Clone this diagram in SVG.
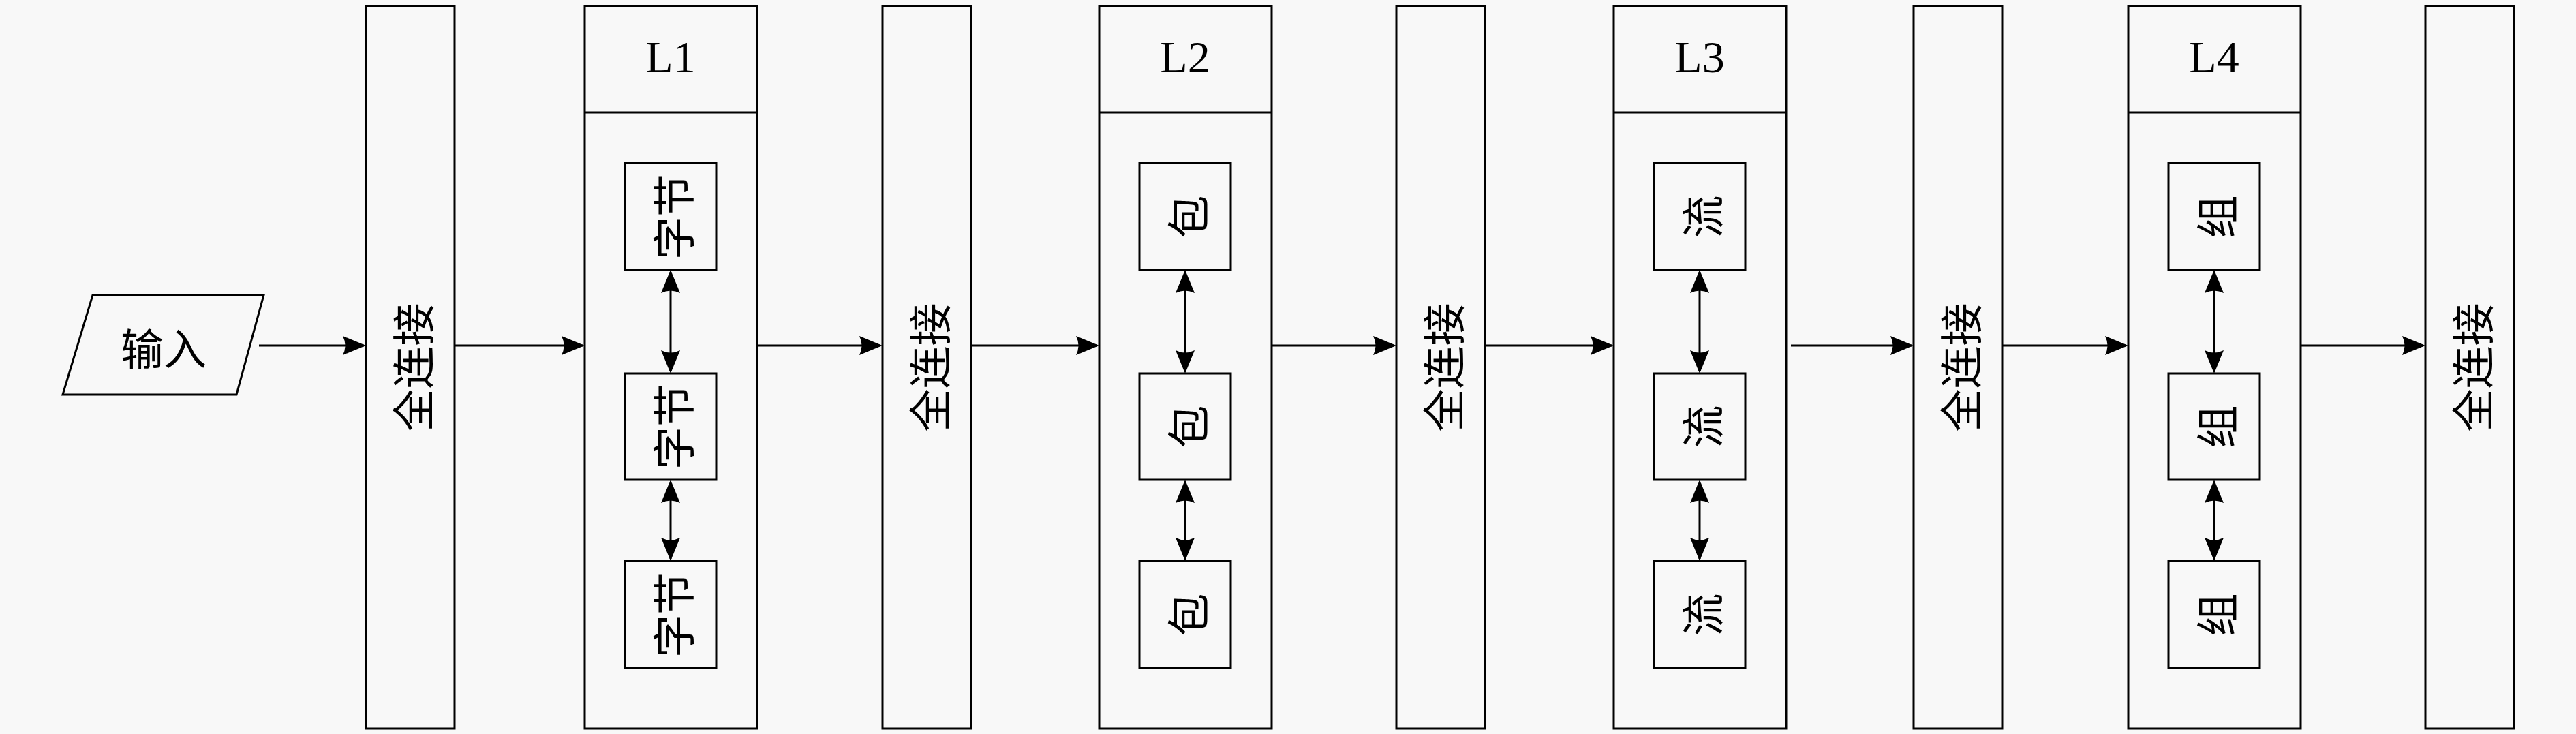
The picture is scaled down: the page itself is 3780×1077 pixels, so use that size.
<svg xmlns="http://www.w3.org/2000/svg" width="3780" height="1077" viewBox="0 0 3780 1077">
<style>
.box{fill:none;stroke:#000;stroke-width:3}
.con{fill:none;stroke:#000;stroke-width:3}
.cjk{font-family:"Noto Sans CJK SC",sans-serif;font-size:63px;fill:#000}
.ttl{font-family:"Liberation Serif",serif;font-size:66px;fill:#000}
</style>
<defs>
<marker id="ah" markerUnits="userSpaceOnUse" markerWidth="44" markerHeight="36" viewBox="-38 -18 44 36" refX="-3" refY="0" orient="auto-start-reverse">
<path d="M0,0 L-34,-14 Q-27,0 -34,14 Z" fill="#000"/>
</marker>
</defs>
<rect width="3780" height="1077" fill="#f8f8f8"/>

<g id="input">
<polygon class="box" points="136,433 387,433 347,579 92,579"/>
<text class="cjk" x="240" y="507" text-anchor="middle" dominant-baseline="central">输入</text>
</g>

<g id="fc1">
<rect class="box" x="537" y="9" width="130" height="1060"/>
<text class="cjk" transform="translate(602,539) rotate(-90)" text-anchor="middle" dominant-baseline="central">全连接</text>
</g>
<g id="fc2">
<rect class="box" x="1295" y="9" width="130" height="1060"/>
<text class="cjk" transform="translate(1360,539) rotate(-90)" text-anchor="middle" dominant-baseline="central">全连接</text>
</g>
<g id="fc3">
<rect class="box" x="2049" y="9" width="130" height="1060"/>
<text class="cjk" transform="translate(2114,539) rotate(-90)" text-anchor="middle" dominant-baseline="central">全连接</text>
</g>
<g id="fc4">
<rect class="box" x="2808" y="9" width="130" height="1060"/>
<text class="cjk" transform="translate(2873,539) rotate(-90)" text-anchor="middle" dominant-baseline="central">全连接</text>
</g>
<g id="fc5">
<rect class="box" x="3559" y="9" width="130" height="1060"/>
<text class="cjk" transform="translate(3624,539) rotate(-90)" text-anchor="middle" dominant-baseline="central">全连接</text>
</g>

<g id="L1">
<rect class="box" x="858" y="9" width="253" height="1060"/>
<line class="box" x1="858" y1="165" x2="1111" y2="165"/>
<text class="ttl" x="984" y="106" text-anchor="middle">L1</text>
<g id="L1a"><rect class="box" x="917" y="239" width="134" height="157"/><text class="cjk" transform="translate(984,318) rotate(-90)" text-anchor="middle" dominant-baseline="central">字节</text></g>
<g id="L1b"><rect class="box" x="917" y="548" width="134" height="156"/><text class="cjk" transform="translate(984,626) rotate(-90)" text-anchor="middle" dominant-baseline="central">字节</text></g>
<g id="L1c"><rect class="box" x="917" y="823" width="134" height="157"/><text class="cjk" transform="translate(984,902) rotate(-90)" text-anchor="middle" dominant-baseline="central">字节</text></g>
</g>

<g id="L2">
<rect class="box" x="1613" y="9" width="253" height="1060"/>
<line class="box" x1="1613" y1="165" x2="1866" y2="165"/>
<text class="ttl" x="1739" y="106" text-anchor="middle">L2</text>
<g id="L2a"><rect class="box" x="1672" y="239" width="134" height="157"/><text class="cjk" transform="translate(1739,318) rotate(-90)" text-anchor="middle" dominant-baseline="central">包</text></g>
<g id="L2b"><rect class="box" x="1672" y="548" width="134" height="156"/><text class="cjk" transform="translate(1739,626) rotate(-90)" text-anchor="middle" dominant-baseline="central">包</text></g>
<g id="L2c"><rect class="box" x="1672" y="823" width="134" height="157"/><text class="cjk" transform="translate(1739,902) rotate(-90)" text-anchor="middle" dominant-baseline="central">包</text></g>
</g>

<g id="L3">
<rect class="box" x="2368" y="9" width="253" height="1060"/>
<line class="box" x1="2368" y1="165" x2="2621" y2="165"/>
<text class="ttl" x="2494" y="106" text-anchor="middle">L3</text>
<g id="L3a"><rect class="box" x="2427" y="239" width="134" height="157"/><text class="cjk" transform="translate(2494,318) rotate(-90)" text-anchor="middle" dominant-baseline="central">流</text></g>
<g id="L3b"><rect class="box" x="2427" y="548" width="134" height="156"/><text class="cjk" transform="translate(2494,626) rotate(-90)" text-anchor="middle" dominant-baseline="central">流</text></g>
<g id="L3c"><rect class="box" x="2427" y="823" width="134" height="157"/><text class="cjk" transform="translate(2494,902) rotate(-90)" text-anchor="middle" dominant-baseline="central">流</text></g>
</g>

<g id="L4">
<rect class="box" x="3123" y="9" width="253" height="1060"/>
<line class="box" x1="3123" y1="165" x2="3376" y2="165"/>
<text class="ttl" x="3249" y="106" text-anchor="middle">L4</text>
<g id="L4a"><rect class="box" x="3182" y="239" width="134" height="157"/><text class="cjk" transform="translate(3249,318) rotate(-90)" text-anchor="middle" dominant-baseline="central">组</text></g>
<g id="L4b"><rect class="box" x="3182" y="548" width="134" height="156"/><text class="cjk" transform="translate(3249,626) rotate(-90)" text-anchor="middle" dominant-baseline="central">组</text></g>
<g id="L4c"><rect class="box" x="3182" y="823" width="134" height="157"/><text class="cjk" transform="translate(3249,902) rotate(-90)" text-anchor="middle" dominant-baseline="central">组</text></g>
</g>

<g id="connectors">
<line class="con" x1="380" y1="507" x2="534" y2="507" marker-end="url(#ah)"/>
<line class="con" x1="668" y1="507" x2="855" y2="507" marker-end="url(#ah)"/>
<line class="con" x1="1112" y1="507" x2="1292" y2="507" marker-end="url(#ah)"/>
<line class="con" x1="1426" y1="507" x2="1610" y2="507" marker-end="url(#ah)"/>
<line class="con" x1="1867" y1="507" x2="2046" y2="507" marker-end="url(#ah)"/>
<line class="con" x1="2180" y1="507" x2="2365" y2="507" marker-end="url(#ah)"/>
<line class="con" x1="2628" y1="507" x2="2805" y2="507" marker-end="url(#ah)"/>
<line class="con" x1="2939" y1="507" x2="3120" y2="507" marker-end="url(#ah)"/>
<line class="con" x1="3377" y1="507" x2="3556" y2="507" marker-end="url(#ah)"/>

<line class="con" x1="984" y1="399" x2="984" y2="545" marker-start="url(#ah)" marker-end="url(#ah)"/>
<line class="con" x1="984" y1="707" x2="984" y2="820" marker-start="url(#ah)" marker-end="url(#ah)"/>
<line class="con" x1="1739" y1="399" x2="1739" y2="545" marker-start="url(#ah)" marker-end="url(#ah)"/>
<line class="con" x1="1739" y1="707" x2="1739" y2="820" marker-start="url(#ah)" marker-end="url(#ah)"/>
<line class="con" x1="2494" y1="399" x2="2494" y2="545" marker-start="url(#ah)" marker-end="url(#ah)"/>
<line class="con" x1="2494" y1="707" x2="2494" y2="820" marker-start="url(#ah)" marker-end="url(#ah)"/>
<line class="con" x1="3249" y1="399" x2="3249" y2="545" marker-start="url(#ah)" marker-end="url(#ah)"/>
<line class="con" x1="3249" y1="707" x2="3249" y2="820" marker-start="url(#ah)" marker-end="url(#ah)"/>
</g>
</svg>
